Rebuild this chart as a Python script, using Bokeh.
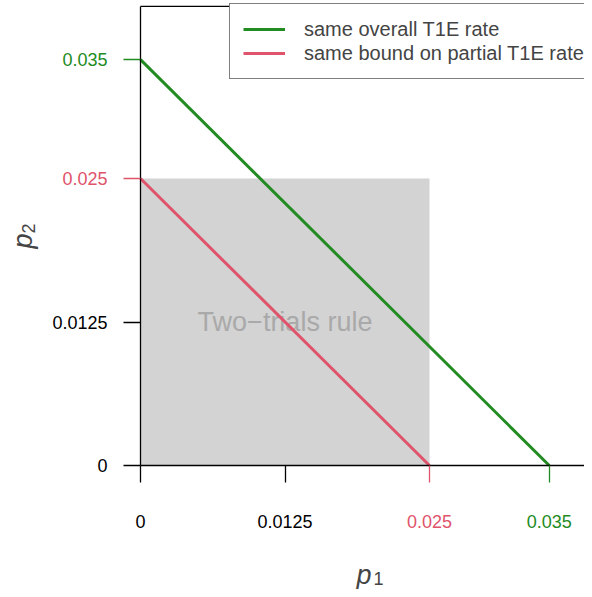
import math
from bokeh.plotting import figure
from bokeh.models import LinearAxis, FixedTicker, Range1d, Label, Legend, LegendItem
from bokeh.embed import file_html
from bokeh.resources import INLINE
from bokeh.core.properties import value

# ---------------- data ----------------
AXIS_LIMIT = 0.04                       # upper limit of both axes (plot box)
RULE_P1 = [0.0, 0.025]                  # two-trials rule region, p1 extent
RULE_P2 = [0.0, 0.025]                  # two-trials rule region, p2 extent
OVERALL_P1 = [0.0, 0.03536]             # same overall T1E rate
OVERALL_P2 = [0.03536, 0.0]
PARTIAL_P1 = [0.0, 0.025]               # same bound on partial T1E rate
PARTIAL_P2 = [0.025, 0.0]
SERIES_NAMES = ["same overall T1E rate", "same bound on partial T1E rate"]
RULE_LABEL = "Two\u2212trials rule"

TICKS_PLAIN = [0.0, 0.0125]
LABELS_PLAIN = ["0", "0.0125"]
TICKS_PARTIAL = [0.025]
LABELS_PARTIAL = ["0.025"]
TICKS_OVERALL = [0.03536]
LABELS_OVERALL = ["0.035"]

# ---------------- styles / layout ----------------
GREEN = "#228B22"
RED = "#DF536B"
BOX_GRAY = "#D3D3D3"
TEXT_GRAY = "#A9A9A9"
FONT = "Liberation Sans"

W, H = 584, 589
ORIGIN_X = 140          # px from left where p1 = 0
ORIGIN_Y = 465          # px from top where p2 = 0
SX = 11560.0            # px per unit on p1
SY = 11480.0            # px per unit on p2

x_range = Range1d(-ORIGIN_X / SX, (W - ORIGIN_X) / SX)
y_range = Range1d(-(H - ORIGIN_Y) / SY, ORIGIN_Y / SY)

p = figure(width=W, height=H, x_range=x_range, y_range=y_range,
           x_axis_type=None, y_axis_type=None,
           toolbar_location=None, output_backend="svg",
           min_border=0, outline_line_color=None,
           background_fill_color="white", border_fill_color="white")

# two-trials rule region
p.quad(left=RULE_P1[0], right=RULE_P1[1], bottom=RULE_P2[0], top=RULE_P2[1],
       fill_color=BOX_GRAY, line_color=None)
p.text(x=[sum(RULE_P1) / 2], y=[sum(RULE_P2) / 2], text=[RULE_LABEL],
       text_align="center", text_baseline="middle",
       text_font=value(FONT), text_font_size="27px", text_color=TEXT_GRAY)

r_partial = p.line(PARTIAL_P1, PARTIAL_P2, line_color=RED, line_width=3)
r_overall = p.line(OVERALL_P1, OVERALL_P2, line_color=GREEN, line_width=3)

# top edge of the plot box
p.line([0.0, AXIS_LIMIT], [AXIS_LIMIT, AXIS_LIMIT], line_color="black", line_width=1.3)


def make_axis(ticks, labels, color, draw_line, standoff):
    return LinearAxis(
        fixed_location=0.0,
        bounds=(0.0, AXIS_LIMIT),
        ticker=FixedTicker(ticks=ticks, minor_ticks=[]),
        major_label_overrides={t: l for t, l in zip(ticks, labels)},
        axis_line_color="black" if draw_line else None,
        axis_line_width=1.3,
        major_tick_line_color=color,
        major_tick_line_width=1.3,
        major_tick_out=17,
        major_tick_in=0,
        minor_tick_line_color=None,
        major_label_standoff=standoff,
        major_label_text_color=color,
        major_label_text_font=FONT,
        major_label_text_font_size="18px",
    )


for side, standoff in (("left", 16), ("below", 32)):
    p.add_layout(make_axis(TICKS_PLAIN, LABELS_PLAIN, "black", True, standoff), side)
    p.add_layout(make_axis(TICKS_PARTIAL, LABELS_PARTIAL, RED, False, standoff), side)
    p.add_layout(make_axis(TICKS_OVERALL, LABELS_OVERALL, GREEN, False, standoff), side)

# axis titles p1 / p2
p.add_layout(Label(x=356, y=15, x_units="screen", y_units="screen", text="p",
                   text_font=FONT, text_font_style="italic", text_font_size="27px",
                   text_baseline="alphabetic", text_align="left"))
p.add_layout(Label(x=373, y=11, x_units="screen", y_units="screen", text="1",
                   text_font=FONT, text_font_size="18px",
                   text_baseline="alphabetic", text_align="left"))
p.add_layout(Label(x=22, y=H - 248, x_units="screen", y_units="screen", text="p",
                   angle=math.pi / 2,
                   text_font=FONT, text_font_style="italic", text_font_size="27px",
                   text_baseline="alphabetic", text_align="left"))
p.add_layout(Label(x=28, y=H - 233, x_units="screen", y_units="screen", text="2",
                   angle=math.pi / 2,
                   text_font=FONT, text_font_size="18px",
                   text_baseline="alphabetic", text_align="left"))

legend = Legend(
    items=[LegendItem(label=SERIES_NAMES[0], renderers=[r_overall]),
           LegendItem(label=SERIES_NAMES[1], renderers=[r_partial])],
    location=(229, H - 79),
    border_line_color="black", border_line_width=1.3,
    background_fill_color="white", background_fill_alpha=1.0,
    padding=13, spacing=0, margin=0,
    glyph_width=42, glyph_height=24, label_height=24, label_standoff=19,
    label_text_font=FONT, label_text_font_size="20px",
    label_text_baseline="middle",
)
p.add_layout(legend)

open("out.html", "w").write(file_html(p, INLINE))
